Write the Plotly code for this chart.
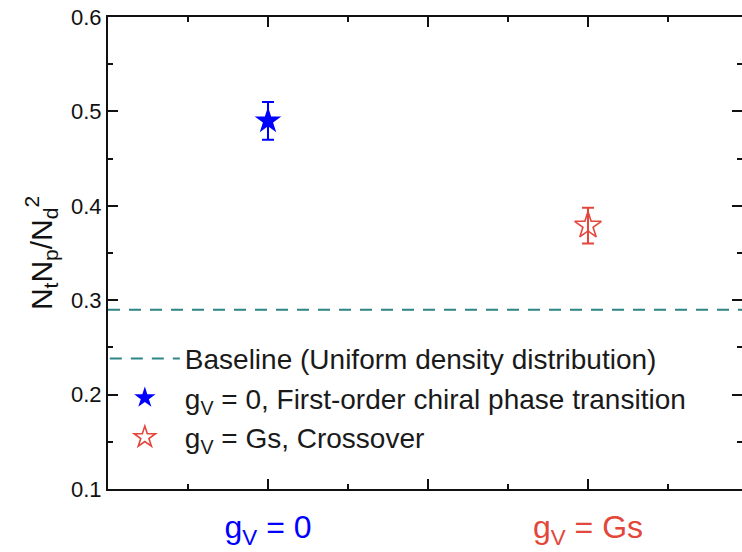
import plotly.graph_objects as go

# ---- data ----
categories = ["g<sub>V</sub> = 0", "g<sub>V</sub> = Gs"]
cat_x = [1, 3]
values = [0.49, 0.379]
errors = [0.02, 0.019]
baseline_x = [0, 4]
baseline_y = [0.29, 0.29]
y_ticks = [0.1, 0.2, 0.3, 0.4, 0.5, 0.6]
y_ticklabels = ["0.1", "0.2", "0.3", "0.4", "0.5", "0.6"]
x_ticks = [1, 2, 3]

BLUE = "#0000ff"
RED = "#e3463b"
TEAL = "#2e8585"

fig = go.Figure()

fig.add_trace(go.Scatter(
    x=baseline_x, y=baseline_y, mode="lines",
    line=dict(color=TEAL, width=2, dash="12px,9px"),
    name="Baseline (Uniform density distribution)",
    legendgroup="a",
))
fig.add_trace(go.Scatter(
    x=[cat_x[0]], y=[values[0]], mode="markers",
    marker=dict(symbol="star", size=20, color=BLUE, line=dict(width=0)),
    error_y=dict(type="data", array=[errors[0]], color=BLUE, thickness=2, width=6),
    name="g<sub>V</sub> = 0, First-order chiral phase transition",
    legendgroup="b",
))
fig.add_trace(go.Scatter(
    x=[cat_x[1]], y=[values[1]], mode="markers",
    marker=dict(symbol="star-open", size=20, color=RED, line=dict(width=1.6, color=RED)),
    error_y=dict(type="data", array=[errors[1]], color=RED, thickness=2, width=6),
    name="g<sub>V</sub> = Gs, Crossover",
    legendgroup="c",
))

ticktext = [
    f'<span style="color:{BLUE}">{categories[0]}</span>',
    "",
    f'<span style="color:{RED}">{categories[1]}</span>',
]

fig.update_layout(
    width=742, height=552,
    margin=dict(l=108, r=0, t=17, b=63),
    paper_bgcolor="white", plot_bgcolor="white",
    font=dict(family="Liberation Sans, Arial, sans-serif", color="#111"),
    showlegend=True,
    legend=dict(
        x=-0.005, y=0.329, xanchor="left", yanchor="top",
        bgcolor="rgba(0,0,0,0)", borderwidth=0,
        font=dict(size=28, color="#1a1a1a"),
        itemwidth=70, tracegroupgap=0,
    ),
    xaxis=dict(
        range=[0, (742 - 108) / 160],
        tickmode="array", tickvals=x_ticks, ticktext=ticktext,
        ticks="inside", ticklen=10, tickwidth=2, tickcolor="#111",
        showline=True, linecolor="#111", linewidth=2, mirror="ticks",
        showgrid=False, zeroline=False, automargin=False,
        tickfont=dict(size=32),
        ticklabelstandoff=9,
        minor=dict(tickmode="linear", tick0=0, dtick=0.5, ticks="inside",
                   ticklen=5, tickwidth=2, tickcolor="#111", showgrid=False),
    ),
    yaxis=dict(
        range=[0.1, 0.6],
        tickmode="array", tickvals=y_ticks, ticktext=y_ticklabels,
        ticks="inside", ticklen=10, tickwidth=2, tickcolor="#111",
        showline=True, linecolor="#111", linewidth=2, mirror="ticks",
        showgrid=False, zeroline=False, automargin=False,
        tickfont=dict(size=22),
        minor=dict(tickmode="linear", tick0=0.1, dtick=0.05, ticks="inside",
                   ticklen=5, tickwidth=2, tickcolor="#111", showgrid=False),
        title=dict(text="N<sub>t</sub>N<sub>p</sub>/N<sub>d</sub><sup>2</sup>",
                   font=dict(size=30), standoff=10),
    ),
)

fig.write_html("out.html")
